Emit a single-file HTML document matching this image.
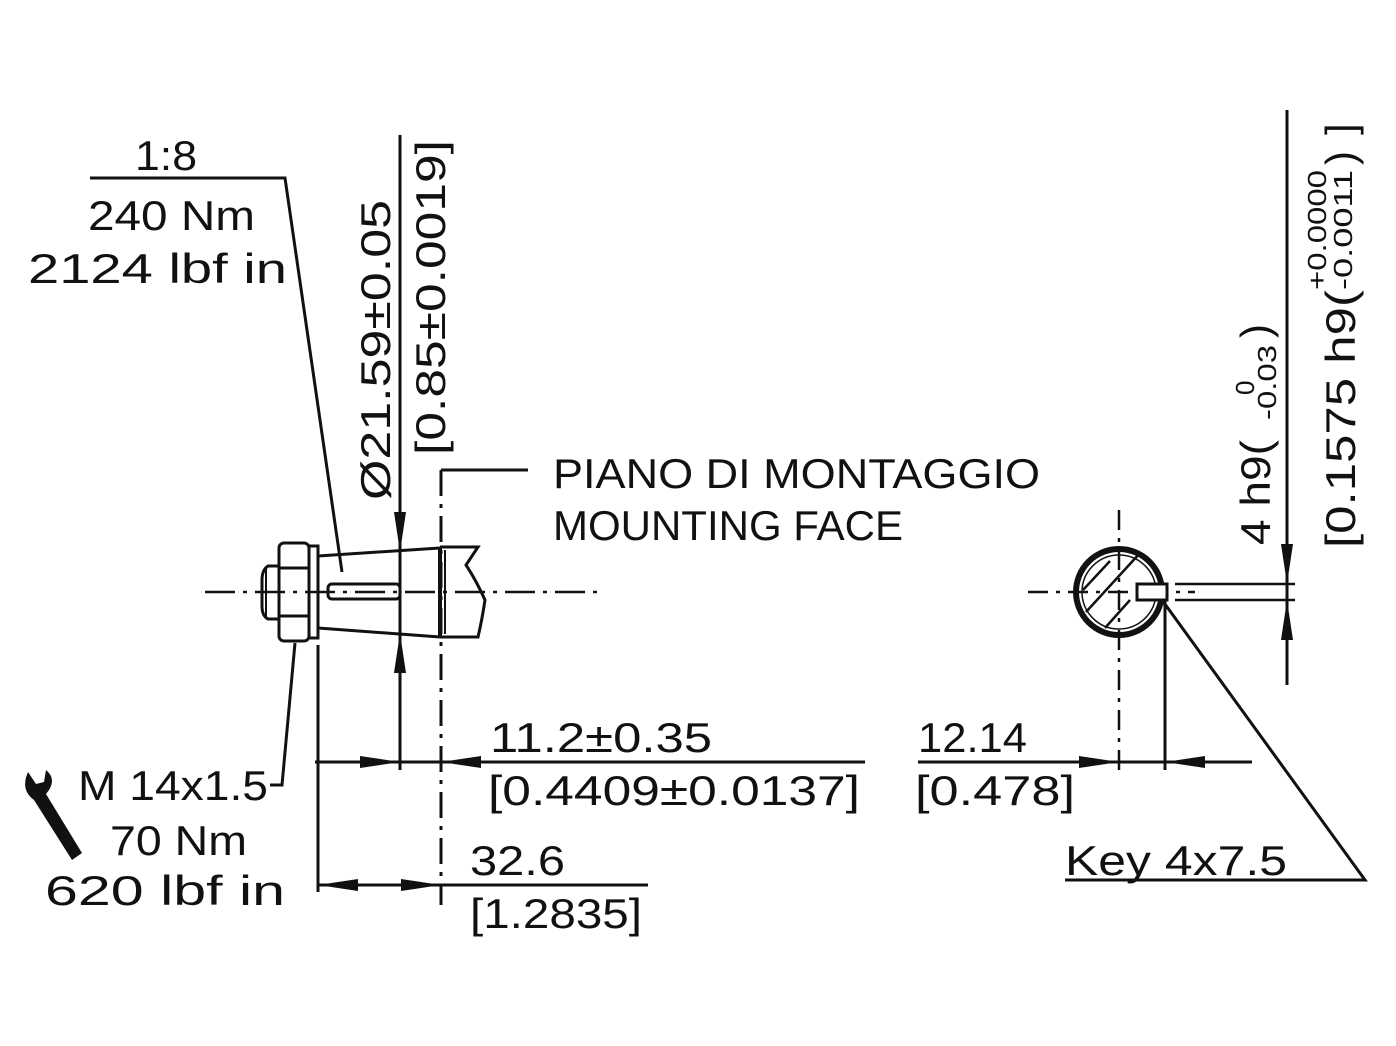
<!DOCTYPE html>
<html><head><meta charset="utf-8"><style>
html,body{margin:0;padding:0;background:#fff;}
svg{display:block}
text{font-family:"Liberation Sans",sans-serif;fill:#111;}
</style></head><body>
<svg width="1396" height="1046" viewBox="0 0 1396 1046" xmlns="http://www.w3.org/2000/svg">
<defs>
<marker id="a" viewBox="0 0 40 12" refX="40" refY="6" markerWidth="40" markerHeight="12" markerUnits="userSpaceOnUse" orient="auto"><path d="M0,0 L40,6 L0,12 Z" fill="#111"/></marker>
</defs>
<g stroke="#111" stroke-width="3" fill="none">
<!-- top left leader -->
<path d="M90,178 H285 L342,572"/>
<!-- centerline left -->
<path d="M205,592 H600" stroke-width="2.5" stroke-dasharray="30,8,4,8"/>
<!-- nut -->
<rect x="279" y="543" width="30" height="98" rx="5"/>
<path d="M279,568 H309 M279,616 H309"/>
<rect x="309" y="546" width="9" height="92"/>
<path d="M279,566 H268 Q262,570 262,580 V606 Q262,616 268,619 H279"/>
<path d="M266,568 V617" stroke-width="2"/>
<!-- taper -->
<path d="M318,556 L440,548 M318,628 L440,637"/>
<path d="M440,547 H478 L466,565 Q476,580 485,600 Q482,620 478,637 H440" />
<path d="M440,547 V637" stroke-width="4"/>
<path d="M445,550 V634" stroke-width="2"/>
<rect x="328" y="584" width="72" height="15" rx="4"/>
<!-- dims vertical -->
<path d="M400,135 V770"/>
<path d="M400,505 V552" marker-end="url(#a)"/>
<path d="M400,680 V633" marker-end="url(#a)"/>
<path d="M441,470 V905" stroke-dasharray="26,8,4,8"/>
<path d="M441,470 H528"/>
<path d="M318,645 V892"/>
<!-- dim 11.2 -->
<path d="M315,762 H865"/>
<path d="M360,762 H400" marker-end="url(#a)"/>
<path d="M481,762 H441" marker-end="url(#a)"/>
<!-- dim 32.6 -->
<path d="M318,885 H648"/>
<path d="M358,885 H318" marker-end="url(#a)"/>
<path d="M401,885 H441" marker-end="url(#a)"/>
<!-- nut leader -->
<path d="M295,643 L282,785 H270"/>
<!-- right view -->
<path d="M1028,592 H1195" stroke-width="2.5" stroke-dasharray="20,8,4,8"/>
<path d="M1119,510 V770" stroke-width="2.5" stroke-dasharray="20,8,4,8"/>
<circle cx="1119" cy="592" r="43" stroke-width="6"/>
<circle cx="1119" cy="592" r="37" stroke-width="1.5"/>
<path d="M1086,612 L1140,553 M1105,628 L1130,600 M1083,590 L1110,561" stroke-width="2.5"/>
<rect x="1137" y="584" width="30" height="16" fill="#fff"/>
<path d="M1165,600 V770"/>
<path d="M1175,584 H1295 M1175,600 H1295" stroke-width="2.5"/>
<path d="M1287,110 V685"/>
<path d="M1287,544 V584" marker-end="url(#a)"/>
<path d="M1287,640 V600" marker-end="url(#a)"/>
<!-- 12.14 -->
<path d="M918,762 H1252"/>
<path d="M1079,762 H1119" marker-end="url(#a)"/>
<path d="M1205,762 H1165" marker-end="url(#a)"/>
<!-- key leader -->
<path d="M1162,600 L1365,880 H1065"/>
</g>
<!-- wrench -->
<g fill="#111">
<path d="M28,772 Q20,790 34,800 L72,860 L82,853 L46,794 Q58,780 46,770 L44,782 L36,784 Z"/>
</g>
<g font-size="42">
<text x="135" y="170" textLength="62" lengthAdjust="spacingAndGlyphs">1:8</text>
<text x="88" y="230" textLength="167" lengthAdjust="spacingAndGlyphs">240 Nm</text>
<text x="28" y="283" textLength="259" lengthAdjust="spacingAndGlyphs">2124 lbf in</text>
<text transform="translate(390,500) rotate(-90)" textLength="300" lengthAdjust="spacingAndGlyphs">Ø21.59±0.05</text>
<text transform="translate(445,455) rotate(-90)" textLength="315" lengthAdjust="spacingAndGlyphs">[0.85±0.0019]</text>
<text x="553" y="488" textLength="487" lengthAdjust="spacingAndGlyphs">PIANO DI MONTAGGIO</text>
<text x="553" y="540" textLength="350" lengthAdjust="spacingAndGlyphs">MOUNTING FACE</text>
<text x="490" y="752" textLength="222" lengthAdjust="spacingAndGlyphs">11.2±0.35</text>
<text x="488" y="805" textLength="372" lengthAdjust="spacingAndGlyphs">[0.4409±0.0137]</text>
<text x="470" y="875" textLength="95" lengthAdjust="spacingAndGlyphs">32.6</text>
<text x="470" y="928" textLength="172" lengthAdjust="spacingAndGlyphs">[1.2835]</text>
<text x="78" y="800" textLength="190" lengthAdjust="spacingAndGlyphs">M 14x1.5</text>
<text x="110" y="855" textLength="137" lengthAdjust="spacingAndGlyphs">70 Nm</text>
<text x="45" y="905" textLength="240" lengthAdjust="spacingAndGlyphs">620 lbf in</text>
<text x="918" y="752" textLength="109" lengthAdjust="spacingAndGlyphs">12.14</text>
<text x="915" y="805" textLength="160" lengthAdjust="spacingAndGlyphs">[0.478]</text>
<text x="1065" y="875" textLength="222" lengthAdjust="spacingAndGlyphs">Key 4x7.5</text>
<text transform="translate(1270,545) rotate(-90)" textLength="105" lengthAdjust="spacingAndGlyphs">4 h9(</text>
<text transform="translate(1270,338) rotate(-90)">)</text>
<text transform="translate(1355,548) rotate(-90)" textLength="258" lengthAdjust="spacingAndGlyphs">[0.1575 h9(</text>
<text transform="translate(1355,165) rotate(-90)">)</text>
<text transform="translate(1355,135) rotate(-90)">]</text>
</g>
<g font-size="26">
<text transform="translate(1254,395) rotate(-90)">0</text>
<text transform="translate(1276,420) rotate(-90)" textLength="75" lengthAdjust="spacingAndGlyphs">-0.03</text>
<text transform="translate(1326,290) rotate(-90)" textLength="120" lengthAdjust="spacingAndGlyphs">+0.0000</text>
<text transform="translate(1352,290) rotate(-90)" textLength="120" lengthAdjust="spacingAndGlyphs">-0.0011</text>
</g>
</svg>
</body></html>
